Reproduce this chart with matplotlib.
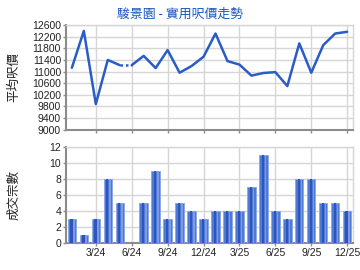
import matplotlib
matplotlib.use("Agg")
import matplotlib.pyplot as plt
import numpy as np

# monthly data, Jan 2024 .. Dec 2025
months = ["1/24", "2/24", "3/24", "4/24", "5/24", "6/24", "7/24", "8/24", "9/24", "10/24", "11/24", "12/24",
          "1/25", "2/25", "3/25", "4/25", "5/25", "6/25", "7/25", "8/25", "9/25", "10/25", "11/25", "12/25"]
price = [11130, 12400, 9880, 11400, 11220, 11220, 11540, 11120, 11740, 10960, 11190, 11510,
         12310, 11360, 11240, 10860, 10950, 10980, 10500, 11970, 10960, 11910, 12310, 12370]
volume = [3, 1, 3, 8, 5, 0, 5, 9, 3, 5, 4, 3,
          4, 4, 4, 7, 11, 4, 3, 8, 8, 5, 5, 4]
gap_month = 5  # 6/24 has no deals, joined with a dotted line
tick_idx = [2, 5, 8, 11, 14, 17, 20, 23]

cjk = ["Noto Sans CJK TC", "DejaVu Sans"]
num_font = "Liberation Sans"
line_c = "#2a5cc8"
grid_c = "#d6d6d6"
spine_c = "#8c8c8c"

fig = plt.figure(figsize=(3.6, 2.7), dpi=100)
ax1 = fig.add_axes([0.183, 0.520, 0.798, 0.387])
ax2 = fig.add_axes([0.183, 0.099, 0.798, 0.356])

x = np.arange(len(months))

# price line
ax1.plot(x[:gap_month], price[:gap_month], color=line_c, lw=1.8, solid_capstyle="round", zorder=3)
ax1.plot(x[gap_month:], price[gap_month:], color=line_c, lw=1.8, solid_capstyle="round", zorder=3)
ax1.plot(x[gap_month - 1:gap_month + 1], price[gap_month - 1:gap_month + 1], color=line_c, lw=1.8,
         ls=(0, (1, 1.2)), zorder=3)
ax1.set_ylim(9000, 12600)
ax1.set_yticks(np.arange(9000, 12601, 400))
ax1.set_xlim(-0.5, 23.5)
ax1.set_xticks(tick_idx)
ax1.set_xticklabels([])

# volume bars, layered to fake the gradient
ax2.bar(x, volume, width=0.7, color="#5079d4", edgecolor="#8ea8e8", linewidth=0.7, zorder=3)
ax2.bar(x - 0.04, volume, width=0.2, color="#2a56bd", linewidth=0, zorder=4)
ax2.bar(x + 0.18, volume, width=0.14, color="#7d9ae2", linewidth=0, zorder=4)
ax2.set_ylim(0, 12)
ax2.set_yticks(range(0, 13, 2))
ax2.set_xlim(-0.5, 23.5)
ax2.set_xticks(tick_idx)
ax2.set_xticklabels([months[i] for i in tick_idx])

for ax in (ax1, ax2):
    ax.grid(True, color=grid_c, lw=1, zorder=0)
    ax.set_axisbelow(True)
    for s in ("top", "right"):
        ax.spines[s].set_color(grid_c)
        ax.spines[s].set_linewidth(1)
    for s in ("left", "bottom"):
        ax.spines[s].set_color(spine_c)
        ax.spines[s].set_linewidth(1.5)
    ax.tick_params(length=2, width=1, color=spine_c, pad=1.5, labelsize=7.5, labelcolor="#222222")
    for lab in ax.get_xticklabels() + ax.get_yticklabels():
        lab.set_fontfamily(num_font)

fig.text(0.038, 0.715, "平均呎價", rotation=90, ha="center", va="center", fontsize=9,
         family=cjk, color="#222222")
fig.text(0.038, 0.278, "成交宗數", rotation=90, ha="center", va="center", fontsize=9,
         family=cjk, color="#222222")
fig.text(0.5, 0.948, "駿景園 - 實用呎價走勢", ha="center", va="center", fontsize=9.3,
         family=cjk, color="#1a56c4")

fig.savefig("out.png", dpi=100)
